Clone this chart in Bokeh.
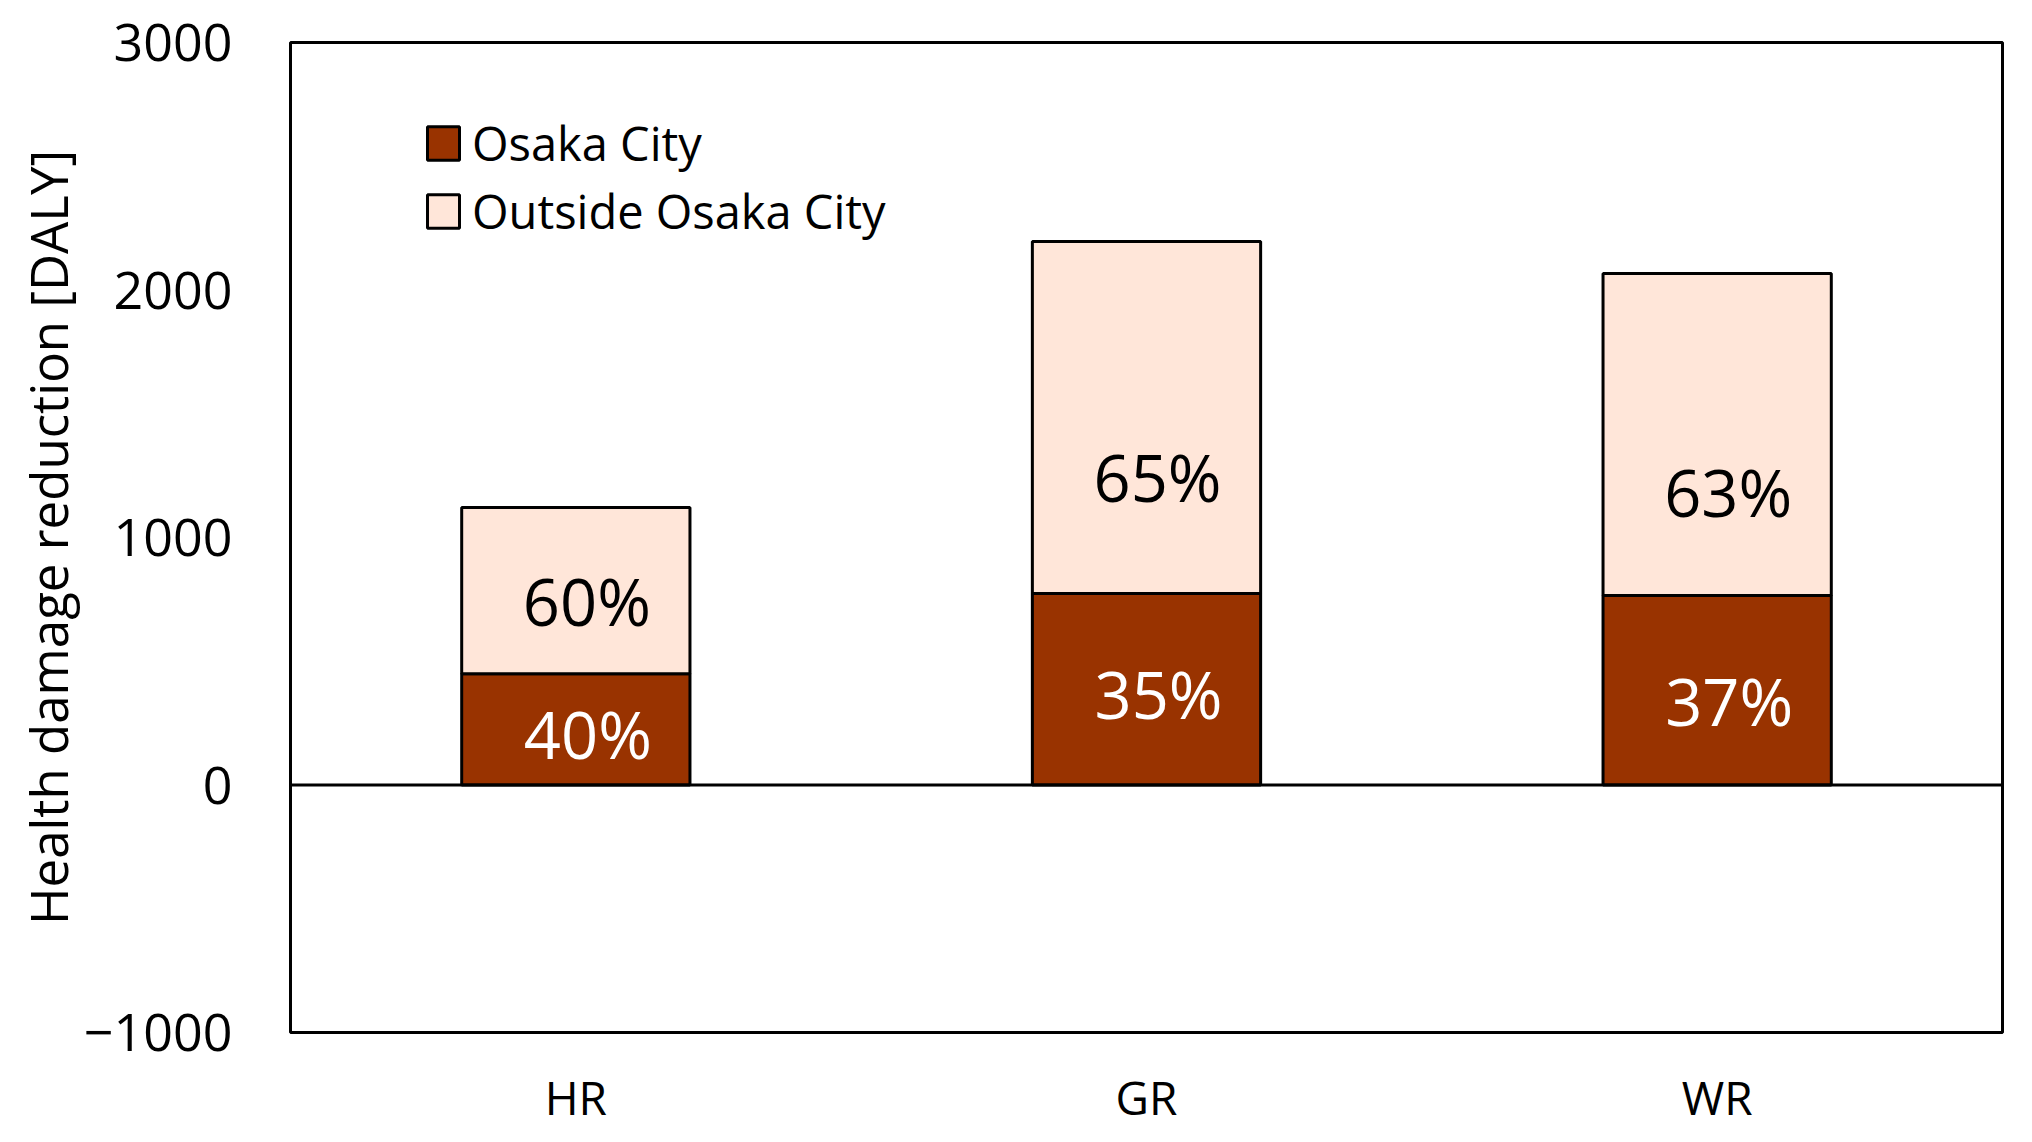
from bokeh.plotting import figure
from bokeh.models import (ColumnDataSource, FixedTicker, Span, Legend, LegendItem,
                          FactorRange)
from bokeh.core.properties import value
from bokeh.embed import file_html
from bokeh.resources import INLINE

# ---- data ----
categories = ["HR", "GR", "WR"]
osaka = [450, 774, 766]
outside = [671, 1422, 1301]
osaka_pct = ["40%", "35%", "37%"]
outside_pct = ["60%", "65%", "63%"]
osaka_label_y = [208, 366, 338]
outside_label_y = [745, 1246, 1182]
y_ticks = [-1000, 0, 1000, 2000, 3000]

FONT = "Open Sans"
totals = [a + b for a, b in zip(osaka, outside)]

src = ColumnDataSource(dict(
    cat=categories, osaka=osaka, total=totals, zero=[0] * len(categories),
    osaka_pct=osaka_pct, outside_pct=outside_pct,
    osaka_label_y=osaka_label_y, outside_label_y=outside_label_y,
))

p = figure(frame_width=1712, frame_height=990, x_range=FactorRange(*categories),
           y_range=(-1000, 3000), output_backend="svg", toolbar_location=None,
           min_border_left=290, min_border_right=14, min_border_top=42,
           min_border_bottom=100)
p.background_fill_color = "white"
p.border_fill_color = "white"
p.grid.visible = False
p.outline_line_color = "black"
p.outline_line_width = 3
p.outline_line_alpha = 1

r_osaka = p.vbar(x="cat", bottom="zero", top="osaka", width=0.4, source=src,
                 fill_color="#993300", line_color="black", line_width=3)
r_out = p.vbar(x="cat", bottom="osaka", top="total", width=0.4, source=src,
               fill_color="#FFE6D9", line_color="black", line_width=3)

p.add_layout(Span(location=0, dimension="width", line_color="black", line_width=3))

p.text(x="cat", y="outside_label_y", text="outside_pct", source=src,
       text_font=value(FONT), text_font_size="65px", text_color="black",
       text_align="center", text_baseline="middle", x_offset=11)
p.text(x="cat", y="osaka_label_y", text="osaka_pct", source=src,
       text_font=value(FONT), text_font_size="65px", text_color="white",
       text_align="center", text_baseline="middle", x_offset=12)

# axes
p.yaxis.ticker = FixedTicker(ticks=y_ticks)
p.yaxis.major_label_overrides = {-1000: "\u22121000", 0: "0", 1000: "1000",
                                 2000: "2000", 3000: "3000"}
p.yaxis.axis_label = "Health damage reduction [DALY]"
p.yaxis.axis_label_text_font = FONT
p.yaxis.axis_label_text_font_size = "51px"
p.yaxis.axis_label_text_font_style = "normal"
p.yaxis.axis_label_text_color = "black"
p.yaxis.axis_label_standoff = -2
for ax in (p.xaxis, p.yaxis):
    ax.axis_line_color = None
    ax.major_tick_line_color = None
    ax.minor_tick_line_color = None
    ax.major_label_text_font = FONT
    ax.major_label_text_color = "black"
p.yaxis.major_label_text_font_size = "52px"
p.yaxis.major_label_standoff = 52
p.xaxis.major_label_text_font_size = "46px"
p.xaxis.major_label_standoff = 27

legend = Legend(items=[LegendItem(label="Osaka City", renderers=[r_osaka]),
                       LegendItem(label="Outside Osaka City", renderers=[r_out])],
                location=(133, 789), orientation="vertical")
legend.label_text_font = FONT
legend.label_text_font_size = "47px"
legend.label_text_color = "black"
legend.glyph_width = 40
legend.glyph_height = 42
legend.label_standoff = 9
legend.spacing = 4
legend.padding = 0
legend.margin = 0
legend.border_line_color = None
legend.background_fill_alpha = 0
p.add_layout(legend)

open("out.html", "w").write(file_html(p, INLINE))
